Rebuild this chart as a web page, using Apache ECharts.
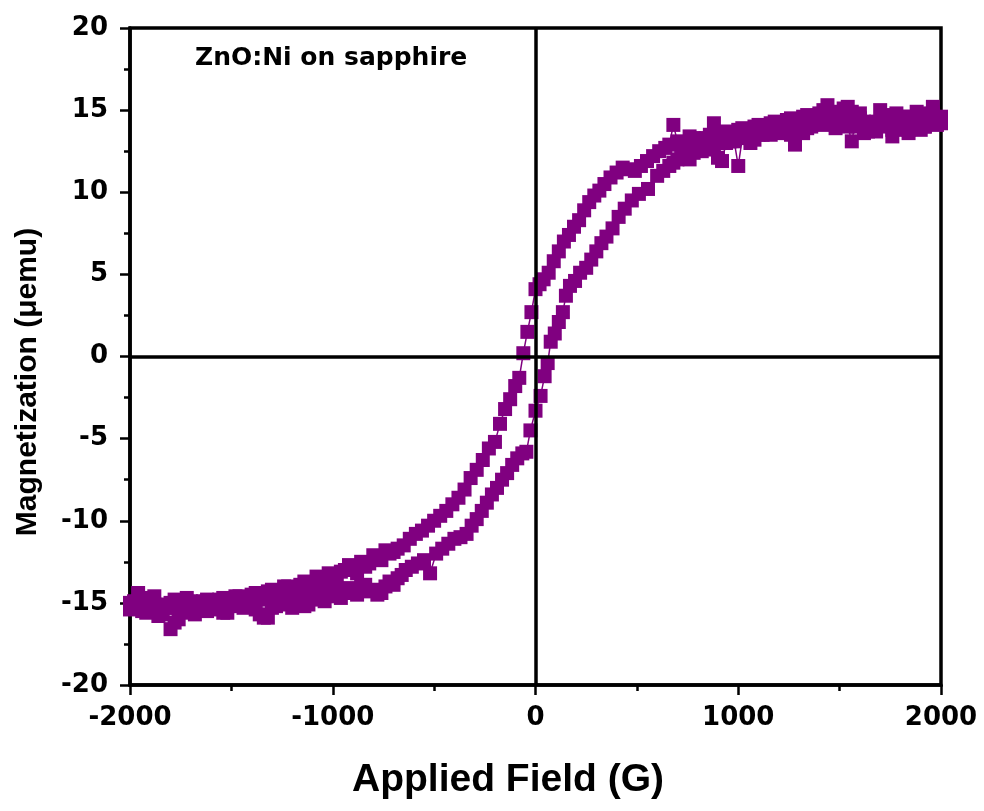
<!DOCTYPE html>
<html>
<head>
<meta charset="utf-8">
<script src="https://cdn.jsdelivr.net/npm/echarts@6/dist/echarts.min.js"></script>
<style>
html,body{margin:0;padding:0;background:#fff;}
#chart{width:984px;height:811px;}
</style>
</head>
<body>
<div id="chart"></div>
<script>
// Descending branch (field swept from +2000 G to -2000 G)
var fieldDown = [
  2000,1980,1960,1940,1920,1900,1880,1860,1840,1820,
  1800,1780,1760,1740,1720,1700,1680,1660,1640,1620,
  1600,1580,1560,1540,1520,1500,1480,1460,1440,1420,
  1400,1380,1360,1340,1320,1300,1280,1260,1240,1220,
  1200,1180,1160,1140,1120,1100,1080,1060,1040,1020,
  1000,980,960,940,920,900,880,860,840,820,
  800,780,760,740,720,700,680,660,
  640,610,580,550,520,490,460,430,400,370,
  340,315,290,265,240,215,190,165,140,115,
  90,65,40,20,0,-20,-40,-60,-80,-100,
  -125,-150,-175,-200,-230,-260,-290,-320,-350,-380,
  -410,-440,-470,-500,-530,-560,-590,-620,-650,
  -680,-700,-720,-740,-760,-780,-800,-820,-840,-860,
  -880,-900,-920,-940,-960,-980,-1000,-1020,-1040,-1060,
  -1080,-1100,-1120,-1140,-1160,-1180,-1200,-1220,-1240,-1260,
  -1280,-1300,-1320,-1340,-1360,-1380,-1400,-1420,-1440,-1460,
  -1480,-1500,-1520,-1540,-1560,-1580,-1600,-1620,-1640,-1660,
  -1680,-1700,-1720,-1740,-1760,-1780,-1800,-1820,-1840,-1860,
  -1880,-1900,-1920,-1940,-1960,-1980,-2000];
var momentDown = [
  14.6,14.1,15.2,14.8,14.0,14.5,14.9,14.3,13.8,14.6,
  14.1,14.8,13.8,14.4,14.7,15.0,14.3,14.2,13.7,13.6,
  14.5,14.0,14.9,15.2,15.1,14.6,14.4,14.9,15.3,15.0,
  14.8,14.3,14.1,14.7,14.6,14.0,13.9,14.5,14.4,13.8,
  13.7,14.3,14.2,13.6,13.5,14.1,14.0,13.4,13.3,13.9,
  13.8,13.2,13.1,13.7,13.6,13.0,14.2,13.5,13.2,12.9,
  12.8,13.3,13.4,12.7,12.6,13.1,14.1,12.9,
  12.7,12.5,12.2,11.9,11.6,11.3,11.4,11.5,11.2,10.9,
  10.5,10.1,9.8,9.4,8.9,8.3,7.9,7.4,7.0,6.4,
  5.8,5.1,4.7,4.4,4.1,2.7,1.5,0.2,-1.3,-1.8,
  -2.6,-3.2,-4.1,-5.2,-5.6,-6.3,-6.9,-7.4,-8.1,-8.6,
  -9.0,-9.4,-9.7,-10.0,-10.3,-10.6,-10.8,-11.1,-11.5,
  -11.7,-11.9,-12.0,-11.8,-12.4,-12.2,-12.1,-12.6,-12.8,-12.5,
  -13.2,-12.9,-12.7,-13.0,-13.1,-13.4,-13.5,-13.2,-13.8,-13.6,
  -13.4,-14.0,-14.1,-13.7,-13.9,-14.3,-14.4,-14.0,-14.0,-14.5,
  -14.6,-14.2,-14.3,-14.7,-14.8,-14.4,-14.5,-15.0,-14.9,-14.6,
  -14.6,-15.1,-15.2,-14.7,-14.8,-15.2,-15.1,-14.8,-14.9,-15.3,
  -15.3,-14.9,-14.7,-15.0,-15.2,-14.8,-15.0,-15.3,-15.5,-15.1,
  -14.6,-15.2,-15.1,-14.7,-14.4,-14.9,-15.0];
// Ascending branch (field swept from -2000 G to +2000 G)
var fieldUp = [
  -2000,-1980,-1960,-1940,-1920,-1900,-1880,-1860,-1840,-1820,
  -1800,-1780,-1760,-1740,-1720,-1700,-1680,-1660,-1640,-1620,
  -1600,-1580,-1560,-1540,-1520,-1500,-1480,-1460,-1440,-1420,
  -1400,-1380,-1360,-1340,-1320,-1300,-1280,-1260,-1240,-1220,
  -1200,-1180,-1160,-1140,-1120,-1100,-1080,-1060,-1040,-1020,
  -1000,-980,-960,-940,-920,-900,-880,-860,-840,-820,
  -800,-780,-760,-740,-720,-700,-680,-660,
  -640,-610,-580,-550,-520,-490,-460,-430,-400,-370,
  -340,-315,-290,-265,-240,-215,-190,-165,-140,-115,
  -90,-65,-45,-25,0,25,45,60,75,95,
  115,135,150,170,195,220,250,275,300,325,
  350,380,410,440,475,510,555,600,630,
  660,680,700,720,740,760,780,800,820,840,
  860,880,900,920,940,960,980,1000,1020,1040,
  1060,1080,1100,1120,1140,1160,1180,1200,1220,1240,
  1260,1280,1300,1320,1340,1360,1380,1400,1420,1440,
  1460,1480,1500,1520,1540,1560,1580,1600,1620,1640,
  1660,1680,1700,1720,1740,1760,1780,1800,1820,1840,
  1860,1880,1900,1920,1940,1960,1980,2000];
var momentUp = [
  -15.4,-15.0,-14.9,-15.5,-15.6,-15.2,-15.1,-15.8,-15.7,-15.3,
  -16.6,-16.2,-16.0,-15.4,-15.3,-15.6,-15.7,-15.1,-15.0,-15.5,
  -15.4,-14.9,-15.1,-15.6,-15.6,-15.2,-14.8,-15.0,-15.3,-14.9,
  -15.0,-15.4,-15.7,-15.9,-15.9,-15.3,-15.2,-14.8,-14.9,-15.1,
  -15.3,-15.0,-14.8,-15.2,-15.1,-14.6,-14.5,-14.8,-14.9,-14.4,
  -14.3,-14.6,-14.7,-14.2,-14.1,-14.4,-14.5,-14.0,-13.9,-14.3,
  -14.2,-14.5,-14.4,-14.0,-13.7,-13.9,-13.5,-13.3,
  -13.0,-12.8,-12.6,-12.4,-13.2,-12.0,-11.7,-11.4,-11.1,-11.0,
  -10.8,-10.3,-9.9,-9.4,-8.9,-8.4,-8.0,-7.5,-7.1,-6.6,
  -6.2,-5.9,-5.8,-4.5,-3.3,-2.4,-1.2,-0.4,0.9,1.4,
  2.1,2.7,3.7,4.3,4.6,5.1,5.4,5.9,6.4,6.9,
  7.3,7.8,8.5,9.0,9.5,9.9,10.2,11.0,11.3,
  11.6,11.8,12.0,12.3,12.1,12.0,12.4,12.7,12.5,13.3,
  12.6,12.9,12.1,11.9,13.0,13.4,13.1,11.6,13.3,13.6,
  13.0,13.2,13.5,13.9,13.7,13.5,13.8,14.2,13.6,13.8,
  13.5,12.9,14.4,13.6,13.9,14.0,14.4,14.7,14.1,14.3,
  14.5,13.9,14.2,14.6,14.0,13.1,14.4,14.8,14.3,14.1,
  13.9,13.7,14.2,14.5,14.0,13.4,13.8,14.3,14.6,13.6,
  14.1,14.5,13.8,14.0,14.7,14.8,14.4,14.2];
var xTicks = {min: -2000, max: 2000, interval: 1000};
var yTicks = {min: -20, max: 20, interval: 5};
var titleText = 'ZnO:Ni on sapphire';
var xName = 'Applied Field (G)';
var yName = 'Magnetization (\u03bcemu)';

function zip(xs, ys) { return xs.map(function (x, i) { return [x, ys[i]]; }); }

var purple = '#800080';
var tickFont = {fontFamily: 'DejaVu Sans', fontWeight: 'bold', fontSize: 26, color: '#000'};

var chart = echarts.init(document.getElementById('chart'), null, {renderer: 'canvas'});
var seriesCommon = {
  type: 'line',
  symbol: 'rect',
  symbolSize: 14,
  showAllSymbol: true,
  itemStyle: {color: purple, opacity: 1},
  lineStyle: {color: purple, width: 1.5},
  silent: true,
  animation: false
};
chart.setOption({
  animation: false,
  backgroundColor: '#fff',
  grid: {left: 130, right: 43, top: 28, bottom: 126, show: true, borderColor: '#000', borderWidth: 3.5, backgroundColor: 'transparent'},
  xAxis: {
    type: 'value', min: xTicks.min, max: xTicks.max, interval: xTicks.interval,
    axisLine: {show: true, onZero: false, lineStyle: {color: '#000', width: 3.5}},
    axisTick: {show: true, inside: false, length: 10, lineStyle: {color: '#000', width: 2.5}},
    minorTick: {show: true, splitNumber: 2, length: 6, lineStyle: {color: '#000', width: 2.5}},
    splitLine: {show: false}, minorSplitLine: {show: false},
    axisLabel: Object.assign({margin: 20, formatter: function (v) { return String(v); }}, tickFont)
  },
  yAxis: {
    type: 'value', min: yTicks.min, max: yTicks.max, interval: yTicks.interval,
    axisLine: {show: true, onZero: false, lineStyle: {color: '#000', width: 3.5}},
    axisTick: {show: true, inside: false, length: 10, lineStyle: {color: '#000', width: 2.5}},
    minorTick: {show: true, splitNumber: 2, length: 6, lineStyle: {color: '#000', width: 2.5}},
    splitLine: {show: false}, minorSplitLine: {show: false},
    axisLabel: Object.assign({margin: 22, formatter: function (v) { return String(v); }}, tickFont)
  },
  graphic: [
    {type: 'text', left: 195, top: 46, style: {text: titleText, font: 'bold 25px "DejaVu Sans"', fill: '#000'}},
    {type: 'text', x: 508, y: 780, style: {text: xName, font: 'bold 39px "Liberation Sans"', fill: '#000', align: 'center', verticalAlign: 'middle'}},
    {type: 'text', x: 28, y: 382, rotation: Math.PI / 2, style: {text: yName, font: 'bold 30px "Liberation Sans"', fill: '#000', align: 'center', verticalAlign: 'middle'}}
  ],
  series: [
    Object.assign({}, seriesCommon, {
      name: 'down', data: zip(fieldDown, momentDown),
      markLine: {
        silent: true, symbol: 'none', animation: false,
        label: {show: false},
        lineStyle: {color: '#000', width: 3.5, type: 'solid'},
        data: [{xAxis: 0}, {yAxis: 0}]
      }
    }),
    Object.assign({}, seriesCommon, {name: 'up', data: zip(fieldUp, momentUp)})
  ]
});
</script>
</body>
</html>
